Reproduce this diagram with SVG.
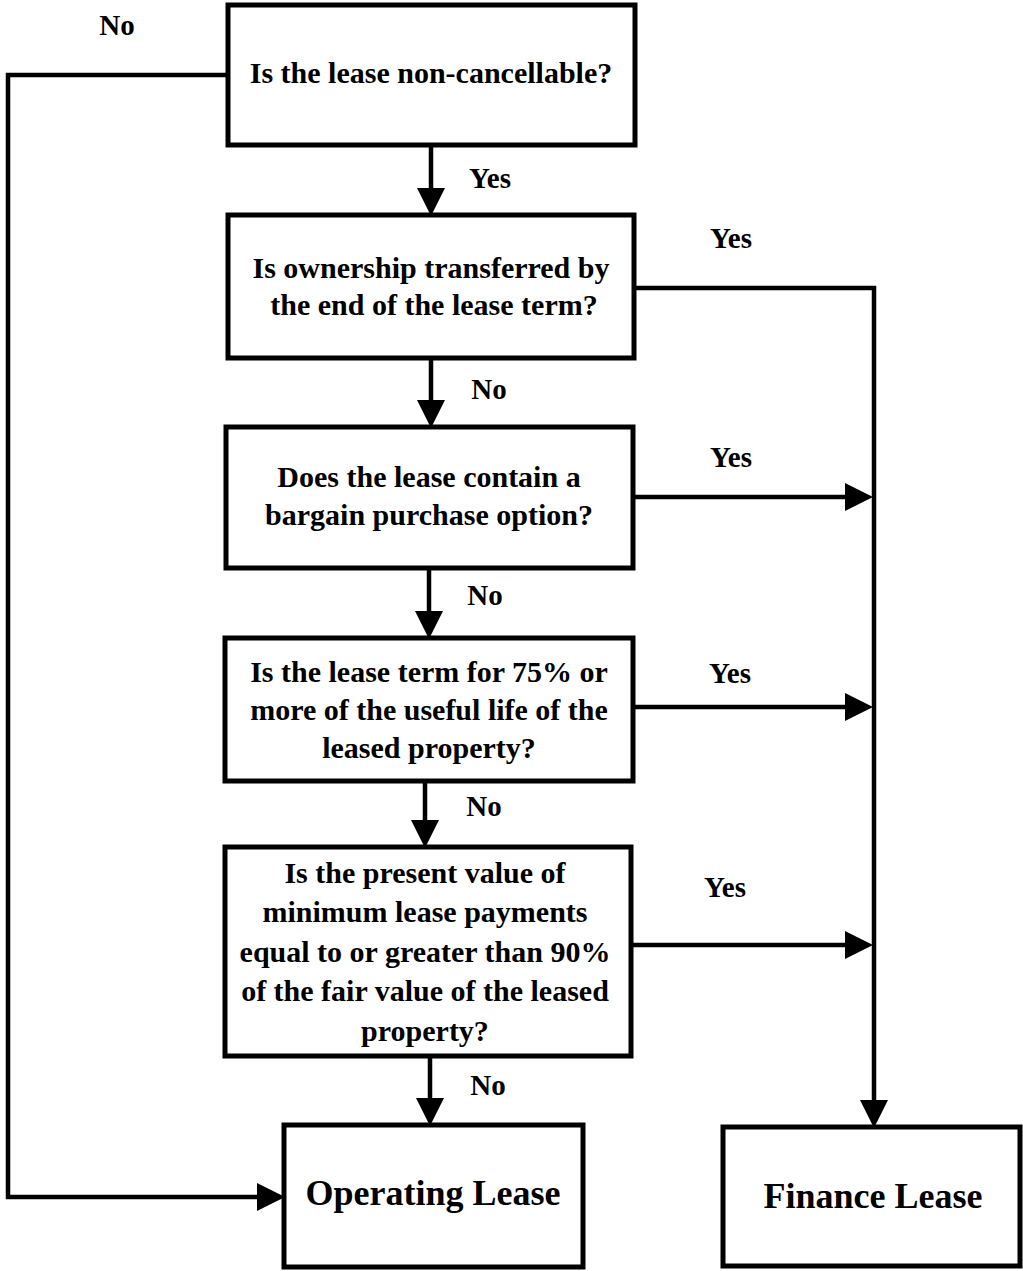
<svg xmlns="http://www.w3.org/2000/svg" width="1023" height="1271" viewBox="0 0 1023 1271">
<style>
.box{fill:#fff;stroke:#000;stroke-width:5}
.q{font-family:"Liberation Serif","Times New Roman",serif;font-weight:bold;font-size:30px;fill:#000;text-anchor:middle}
.big{font-size:36px}
.lbl{font-family:"Liberation Serif","Times New Roman",serif;font-weight:bold;font-size:29px;fill:#000;text-anchor:middle}
.ln{fill:none;stroke:#000;stroke-width:4.5}
</style>
<defs>
<marker id="ah" markerUnits="userSpaceOnUse" markerWidth="28" markerHeight="30" viewBox="0 0 28 30" refX="17" refY="15" orient="auto">
<path d="M0,1 L28,15 L0,29 Z" fill="#000"/>
</marker>
</defs>
<rect width="1023" height="1271" fill="#fff"/>
<g id="connectors">
<polyline class="ln" points="228,75 8,75 8,1197 274,1197" marker-end="url(#ah)"/>
<polyline class="ln" points="635,288 874,288 874,1117" marker-end="url(#ah)"/>
<line class="ln" x1="431" y1="145" x2="431" y2="205" marker-end="url(#ah)"/>
<line class="ln" x1="431" y1="358" x2="431" y2="417" marker-end="url(#ah)"/>
<line class="ln" x1="429" y1="568" x2="429" y2="628" marker-end="url(#ah)"/>
<line class="ln" x1="425" y1="781" x2="425" y2="837" marker-end="url(#ah)"/>
<line class="ln" x1="430" y1="1056" x2="430" y2="1115" marker-end="url(#ah)"/>
<line class="ln" x1="633" y1="497" x2="862" y2="497" marker-end="url(#ah)"/>
<line class="ln" x1="633" y1="707" x2="862" y2="707" marker-end="url(#ah)"/>
<line class="ln" x1="631" y1="945" x2="862" y2="945" marker-end="url(#ah)"/>
<text class="lbl" x="117" y="35">No</text>
<text class="lbl" x="490" y="188">Yes</text>
<text class="lbl" x="731" y="248">Yes</text>
<text class="lbl" x="489" y="399">No</text>
<text class="lbl" x="731" y="467">Yes</text>
<text class="lbl" x="485" y="605">No</text>
<text class="lbl" x="730" y="683">Yes</text>
<text class="lbl" x="484" y="816">No</text>
<text class="lbl" x="725" y="897">Yes</text>
<text class="lbl" x="488" y="1095">No</text>
</g>
<g id="q1">
<rect class="box" x="228" y="5" width="407" height="140"/>
<text class="q" x="431" y="83">Is the lease non-cancellable?</text>
</g>
<g id="q2">
<rect class="box" x="228" y="215" width="406" height="143"/>
<text class="q" x="431" y="278">Is ownership transferred by</text>
<text class="q" x="434" y="315">the end of the lease term?</text>
</g>
<g id="q3">
<rect class="box" x="226" y="427" width="407" height="141"/>
<text class="q" x="429" y="487">Does the lease contain a</text>
<text class="q" x="429" y="525">bargain purchase option?</text>
</g>
<g id="q4">
<rect class="box" x="225" y="638" width="408" height="143"/>
<text class="q" x="429" y="682">Is the lease term for 75% or</text>
<text class="q" x="429" y="720">more of the useful life of the</text>
<text class="q" x="429" y="758">leased property?</text>
</g>
<g id="q5">
<rect class="box" x="225" y="847" width="406" height="209"/>
<text class="q" x="425" y="883">Is the present value of</text>
<text class="q" x="425" y="922">minimum lease payments</text>
<text class="q" x="425" y="962">equal to or greater than 90%</text>
<text class="q" x="425" y="1001">of the fair value of the leased</text>
<text class="q" x="425" y="1041">property?</text>
</g>
<g id="operating">
<rect class="box" x="284" y="1125" width="299" height="142"/>
<text class="q big" x="433" y="1205">Operating Lease</text>
</g>
<g id="finance">
<rect class="box" x="723" y="1127" width="297" height="139"/>
<text class="q big" x="873" y="1208">Finance Lease</text>
</g>
</svg>
